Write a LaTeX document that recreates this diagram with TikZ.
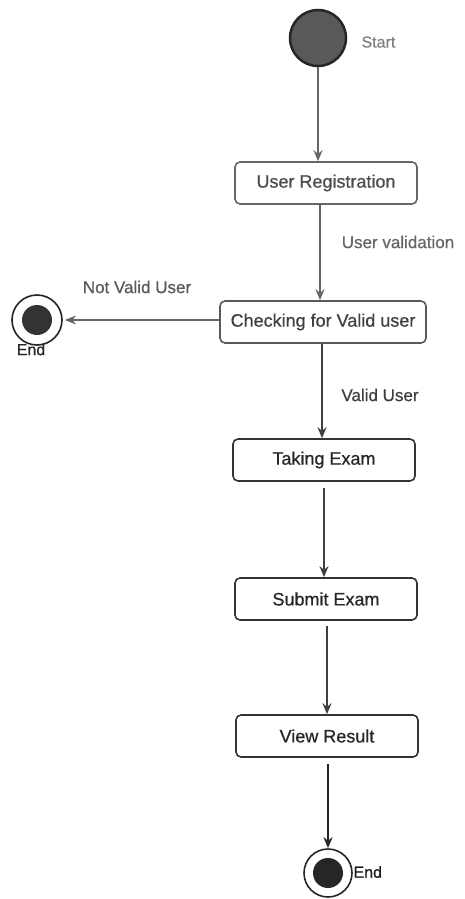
\documentclass[tikz,border=0pt]{standalone}
\usepackage{fontspec}
\setmainfont{Liberation Sans}
\newfontfamily\heavysans[FakeBold=0.6]{Liberation Sans}
\usetikzlibrary{arrows.meta}
\begin{document}
\begin{tikzpicture}[x=1pt,y=-1pt,
  font=\heavysans\fontsize{18}{21}\selectfont,
  state/.style={draw=black!80, line width=1.6pt, rounded corners=5pt, fill=white,
    minimum width=182pt, minimum height=42pt, inner sep=0pt, text=black!85},
  flow/.style={draw=black!75, line width=1.8pt, -{Stealth[length=11pt,width=9pt]}},
  lbl/.style={text=black!70, font=\heavysans\fontsize{17}{20}\selectfont},
  endring/.style={circle, draw=black!85, line width=1.6pt, fill=white, minimum size=#1, inner sep=0pt}
]
\useasboundingbox (0,0) rectangle (464,899);
\fill[white] (0,0) rectangle (464,899);

% initial state
\node (start) [circle, fill=black!65, draw=black!85, line width=2.5pt,
  minimum size=56pt, inner sep=0pt] at (318,38) {};
\node (startlbl) [anchor=west, text=black!50, font=\heavysans\fontsize{16}{18}\selectfont] at (358,42) {Start};

% activity states
\node (reg)   [state, text=black!70, draw=black!60] at (326,183) {User Registration};
\node (check) [state, minimum width=206pt, text=black!75, draw=black!65] at (323,322) {Checking for Valid user};
\node (take)  [state] at (324,460) {Taking Exam};
\node (sub)   [state] at (326,599) {Submit Exam};
\node (view)  [state] at (327,736) {View Result};

% final states
\node (endA) [endring=50pt] at (37,320) {};
\fill[black!80] (endA) circle (15pt);
\node (endAlbl) [anchor=north, text=black!85, font=\heavysans\fontsize{16}{18}\selectfont] at (31,340) {End};

\node (endB) [endring=48pt] at (328,873) {};
\fill[black!85] (endB) circle (15pt);
\node (endBlbl) [anchor=west, text=black!90, font=\heavysans\fontsize{16}{18}\selectfont] at (350,872) {End};

% transitions
\coordinate (notvalidtip) at (65,320);
\draw[flow, draw=black!60] (start.south) -- (start.south |- reg.north);
\draw[flow, draw=black!60] (reg.south -| 320,0) -- (check.north -| 320,0);
\node (uv) [lbl, text=black!60] at (398,242) {User validation};
\draw[flow, draw=black!60] (check.west |- notvalidtip) -- (notvalidtip);
\node (nv) [lbl, text=black!65] at (137,287) {Not Valid User};
\draw[flow] (check.south -| 322,0) -- (take.north -| 322,0);
\node (vu) [lbl, text=black!75] at (380,395) {Valid User};
\draw[flow] (324,488) -- (sub.north -| 324,0);
\draw[flow] (327,626) -- (view.north -| 327,0);
\draw[flow, draw=black!85] (328,764) -- (endB.north);
\end{tikzpicture}
\end{document}
